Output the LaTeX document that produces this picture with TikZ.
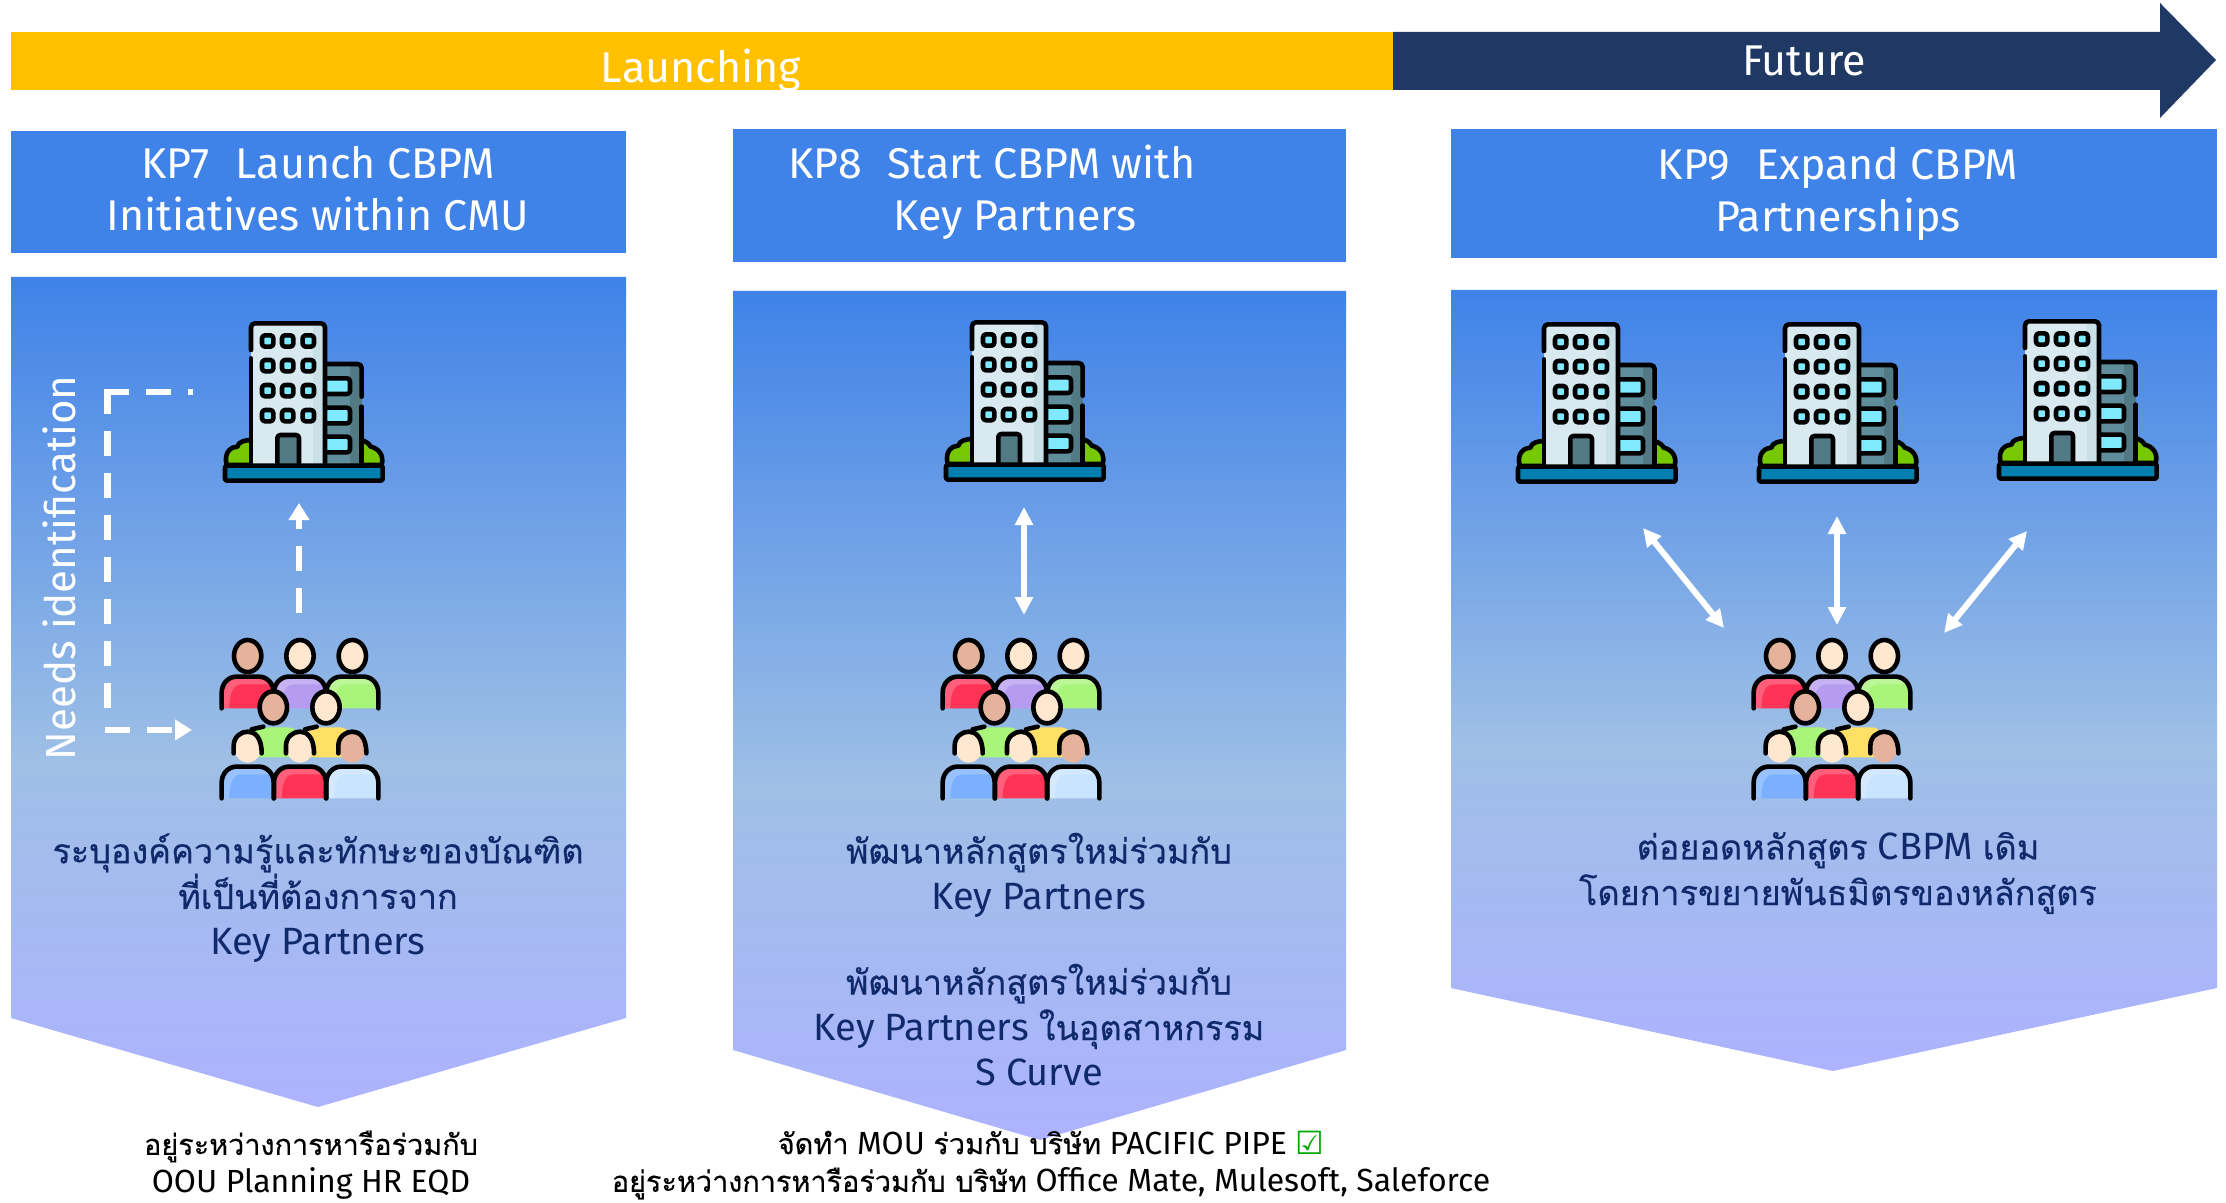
\documentclass[tikz,border=0pt]{standalone}
\usepackage{fontspec}
\setmainfont{Fira Sans}
\newfontfamily\thaifont[Script=Thai,Scale=0.9,FakeBold=0.35]{Loma}
\newfontfamily\symfont{DejaVu Sans}
\newcommand{\T}[1]{{\thaifont #1}}
\usetikzlibrary{arrows.meta,calc}
\definecolor{hblue}{HTML}{3F82E8}
\definecolor{navy}{HTML}{1F3864}
\definecolor{amber}{HTML}{FFC000}
\definecolor{txtblue}{HTML}{10296B}
\definecolor{tw}{HTML}{D8EAF0}
\definecolor{tws}{HTML}{C8E0E6}
\definecolor{ts}{HTML}{5F8D9B}
\definecolor{tsd}{HTML}{527A85}
\definecolor{win}{HTML}{7FEAFF}
\definecolor{bush}{HTML}{76C800}
\definecolor{basec}{HTML}{007FB0}
\definecolor{sk}{HTML}{E5B39B}
\definecolor{sl}{HTML}{FFE8CF}
\definecolor{cred}{HTML}{FF3355}
\definecolor{cpur}{HTML}{B69CF0}
\definecolor{cgrn}{HTML}{A8F57A}
\definecolor{cyel}{HTML}{FFE066}
\definecolor{cblu}{HTML}{7AB0FF}
\definecolor{clbl}{HTML}{C8E4FF}
\pgfdeclareverticalshading{panelgrad}{100bp}{rgb(0bp)=(0.68,0.70,1);rgb(25bp)=(0.68,0.70,1);rgb(46bp)=(0.62,0.75,0.90);rgb(75bp)=(0.247,0.51,0.91);rgb(100bp)=(0.247,0.51,0.91)}
\newcommand{\bwin}[2]{\draw[ink,fill=win,rounded corners=1.5pt] (#1-17,#2-17) rectangle (#1+17,#2+17);}
\newcommand{\swin}[1]{\draw[ink,fill=win,rounded corners=1.5pt] (378,#1) -- (450,#1) -- (450,#1+47) -- (378,#1+47);}
% person: centre x, centre y, shirt colour
\newcommand{\pbody}[3]{%
  \fill[#3] (#1-78,#2+157) -- (#1-78,#2+110) .. controls (#1-78,#2+80) and (#1-55,#2+62) .. (#1-35,#2+62) -- (#1+35,#2+62) .. controls (#1+55,#2+62) and (#1+78,#2+80) .. (#1+78,#2+110) -- (#1+78,#2+157) -- cycle;
  \fill[white,opacity=.22] (#1-78,#2+157) -- (#1-78,#2+110) .. controls (#1-78,#2+80) and (#1-55,#2+62) .. (#1-35,#2+62) -- (#1+35,#2+62) .. controls (#1+55,#2+62) and (#1+78,#2+80) .. (#1+78,#2+110) -- (#1+65,#2+85) -- (#1-20,#2+85) .. controls (#1-40,#2+85) and (#1-55,#2+105) .. (#1-55,#2+157) -- cycle;
  \draw[ink] (#1-78,#2+157) -- (#1-78,#2+110) .. controls (#1-78,#2+80) and (#1-55,#2+62) .. (#1-35,#2+62) -- (#1+35,#2+62) .. controls (#1+55,#2+62) and (#1+78,#2+80) .. (#1+78,#2+110) -- (#1+78,#2+157);}
\newcommand{\phead}[3]{\draw[ink,fill=#3] (#1,#2) ellipse [x radius=41,y radius=48];}
\tikzset{
  x=0.5pt,y=-0.5pt,
  ink/.style={draw=black,line width=2.3pt,line cap=round,line join=round},
  panel/.style={shading=panelgrad,shading angle=0},
  header/.style={fill=hblue},
  head/.style={text=white,font=\fontsize{21.5}{26}\selectfont,align=center,inner sep=0pt},
  body/.style={text=txtblue,font=\fontsize{19}{22.8}\selectfont,align=center,inner sep=0pt},
  foot/.style={text=black,font=\fontsize{16}{18.8}\selectfont,align=center,inner sep=0pt},
  dbl/.style={draw=white,line width=3pt,{Triangle[length=9pt,width=8.7pt]}-{Triangle[length=9pt,width=8.7pt]}},
  dashline/.style={draw=white,line width=3.2pt,dash pattern=on 12.5pt off 8.5pt},
  building/.pic={
    \begin{scope}[shift={(200,300)},scale=1/3]
      \draw[ink,fill=bush] (80,495) .. controls (70,455) and (95,440) .. (112,440) .. controls (115,425) and (135,420) .. (155,420) -- (155,495) -- cycle;
      \draw[ink,fill=bush] (480,420) .. controls (500,422) and (510,435) .. (512,440) .. controls (535,445) and (553,465) .. (545,495) -- (480,495) -- cycle;
      \fill[ts] (375,192) rectangle (485,495);
      \fill[tsd] (450,192) rectangle (485,495);
      \draw[ink,rounded corners=2pt] (375,192) -- (485,192) -- (485,290);
      \draw[ink] (485,320) -- (485,495);
      \swin{235} \swin{323} \swin{410}
      \fill[tw] (153,70) rectangle (375,495);
      \fill[tws] (340,70) rectangle (375,495);
      \draw[ink,rounded corners=2pt] (153,150) -- (153,70) -- (375,70) -- (375,495);
      \draw[ink] (153,175) -- (153,495);
      \foreach \wy in {123,197,272,347}{\foreach \wx in {203,263,325}{\bwin{\wx}{\wy}}}
      \draw[ink,fill=tsd,rounded corners=1.5pt] (232,495) -- (232,405) -- (297,405) -- (297,495);
      \draw[ink,fill=basec,rounded corners=1pt] (75,497) rectangle (548,542);
    \end{scope}},
  people/.pic={
    \begin{scope}[shift={(200,620)},scale=1/3]
      \pbody{457}{108}{cgrn}\phead{457}{108}{sl}
      \pbody{300}{108}{cpur}\phead{300}{108}{sl}
      \pbody{143}{108}{cred}\phead{143}{108}{sk}
      \fill[cgrn] (160,345) .. controls (165,325) and (180,322) .. (195,322) -- (265,322) .. controls (280,322) and (295,335) .. (295,345) -- (295,412) -- (160,412) -- cycle;
      \fill[cyel] (318,345) .. controls (322,325) and (338,322) .. (352,322) -- (420,322) .. controls (435,322) and (450,335) .. (450,345) -- (450,412) -- (318,412) -- cycle;
      \draw[ink] (155,328) -- (190,320);
      \draw[ink] (315,328) -- (350,320);
      \phead{220}{262}{sk}\phead{378}{262}{sl}
      \pbody{457}{378}{clbl}\fill[sk] (457,382) ellipse [x radius=40,y radius=46];
      \draw[ink] (415,400) -- (415,378) .. controls (415,350) and (437,335) .. (457,335) .. controls (477,335) and (499,350) .. (499,400);
      \pbody{300}{378}{cred}\fill[sl] (300,382) ellipse [x radius=40,y radius=46];
      \draw[ink] (258,400) -- (258,378) .. controls (258,350) and (280,335) .. (300,335) .. controls (320,335) and (342,350) .. (342,400);
      \pbody{143}{378}{cblu}\fill[sl] (143,382) ellipse [x radius=40,y radius=46];
      \draw[ink] (101,400) -- (101,378) .. controls (101,350) and (123,335) .. (143,335) .. controls (163,335) and (185,350) .. (185,400);
    \end{scope}},
}
\begin{document}
\begin{tikzpicture}
\useasboundingbox (0,0) rectangle (2226,1203);
% timeline
\fill[amber] (11,32) rectangle (1393,90);
\fill[navy] (1393,32) -- (2160,32) -- (2160,3) -- (2216,60) -- (2160,118) -- (2160,90) -- (1393,90) -- cycle;
\node[text=white,font=\fontsize{21.5}{24}\selectfont] (launch) at (701,70) {Launching};
\node[text=white,font=\fontsize{21.5}{24}\selectfont] (future) at (1804,61) {Future};
% panels
\fill[header] (11,131) rectangle (626,253);
\fill[header] (733,129) rectangle (1346,262);
\fill[header] (1451,129) rectangle (2217,258);
\path[panel] (11,277) -- (626,277) -- (626,1018) -- (318,1107) -- (11,1018) -- cycle;
\path[panel] (733,291) -- (1346,291) -- (1346,1050) -- (1040,1140) -- (733,1050) -- cycle;
\path[panel] (1451,290) -- (2217,290) -- (2217,988) -- (1833,1071) -- (1451,988) -- cycle;
\node[head] (h7) at (318,189) {KP7\hspace{0.6em}Launch CBPM\\Initiatives within CMU};
\node[head] (h8) at (1015,192.5) {KP8\hspace{0.6em}Start CBPM with\hspace*{23pt}\\Key Partners};
\node[head] (h9) at (1838,194) {KP9\hspace{0.6em}Expand CBPM\\Partnerships};
% icons
\pic at (0,0) {building};
\pic at (721,-1) {building};
\pic at (1293,1) {building};
\pic at (1534,1) {building};
\pic at (1774,-2) {building};
\pic at (0,0) {people};
\pic at (721,0) {people};
\pic at (1532,0) {people};
% connectors
\coordinate (upA) at (299,613);
\coordinate (upB) at (299,503);
\draw[dashline,-{Triangle[length=8.5pt,width=10pt]}] (upA) -- (upB);
\coordinate (lA) at (193,392);
\coordinate (lB) at (104,392);
\coordinate (lV) at (107.5,389);
\coordinate (lW) at (107.5,722);
\coordinate (lC) at (105,730);
\coordinate (lD) at (192,730);
\draw[dashline] (lB) -- (lA);
\draw[dashline] (lV) -- (lW);
\draw[dashline,-{Triangle[length=8.5pt,width=10pt]}] (lC) -- (lD);
\node[rotate=90,text=white,font=\fontsize{21}{24}\selectfont,inner sep=0pt,anchor=south] (needs) at (76,568) {Needs identification};
\coordinate (d8a) at (1024,507);
\coordinate (d8b) at (1024,615);
\draw[dbl] (d8a) -- (d8b);
\coordinate (d9a) at (1837,516);
\coordinate (d9b) at (1837,625);
\draw[dbl] (d9a) -- (d9b);
\coordinate (d9c) at (1643,528);
\coordinate (d9d) at (1724,628);
\draw[dbl] (d9c) -- (d9d);
\coordinate (d9e) at (2027,531);
\coordinate (d9f) at (1944,633);
\draw[dbl] (d9e) -- (d9f);
% texts
\node[body] (t7) at (318,898) {\T{ระบุองค์ความรู้และทักษะของบัณฑิต}\\\T{ที่เป็นที่ต้องการจาก}\\Key Partners};
\node[body] (t8a) at (1039,875) {\T{พัฒนาหลักสูตรใหม่ร่วมกับ}\\Key Partners};
\node[body] (t8b) at (1039,1025) {\T{พัฒนาหลักสูตรใหม่ร่วมกับ}\\Key Partners \T{ในอุตสาหกรรม}\\S Curve};
\node[body] (t9) at (1838,873) {\T{ต่อยอดหลักสูตร} CBPM \T{เดิม}\\\T{โดยการขยายพันธมิตรของหลักสูตร}};
\node[foot] (f7) at (311,1165) {\T{อยู่ระหว่างการหารือร่วมกับ}\\OOU Planning HR EQD};
\node[foot] (f8) at (1051,1165) {\T{จัดทำ} MOU \T{ร่วมกับ บริษัท} PACIFIC PIPE {\symfont\textcolor{green!65!black}{☑}}\\\T{อยู่ระหว่างการหารือร่วมกับ บริษัท} Office Mate, Mulesoft, Saleforce};
\end{tikzpicture}
\end{document}
